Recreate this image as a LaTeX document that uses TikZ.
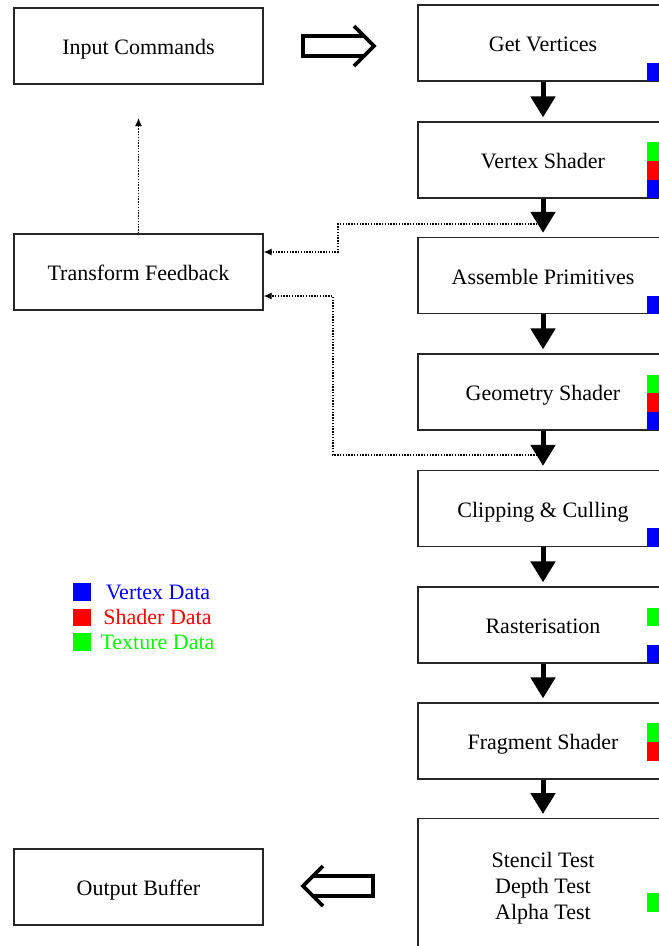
\documentclass[tikz,border=0pt]{standalone}
\usepackage{fontspec}
\setmainfont{Liberation Serif}
\usetikzlibrary{arrows.meta,calc}
\definecolor{vdata}{RGB}{0,0,255}
\definecolor{sdata}{RGB}{255,0,0}
\definecolor{tdata}{RGB}{0,255,0}
\begin{document}
\begin{tikzpicture}[x=1pt,y=-1pt,
  box/.style={draw=black!85,line width=1.3pt,minimum width=249pt,minimum height=76pt,
    inner sep=0pt,font=\fontsize{22}{26}\selectfont,align=center,
    text height=17pt,text depth=0pt},
  stage/.style={box,minimum width=250pt},
  flow/.style={line width=5pt,-{Triangle[length=21pt,width=24pt]},shorten >=4pt},
  feedback/.style={line width=1.2pt,dash pattern=on 1.4pt off 1.4pt,
    -{Latex[length=8pt,width=7pt]}},
  blockarrow/.style={line width=3.6pt,line join=miter},
  legendtext/.style={font=\fontsize{22}{26}\selectfont,inner sep=0pt,
    text height=14pt,text depth=0pt}
]
\useasboundingbox (0,0) rectangle (659,946);
\clip (0,0) rectangle (659,946);

% left column
\node[box] (ic) at (138.5,46)  {Input Commands};
\node[box] (tf) at (138.5,272) {Transform Feedback};
\node[box] (ob) at (138.5,887) {Output Buffer};

% pipeline stages
\node[stage] (gv) at (543,43)    {Get Vertices};
\node[stage] (vs) at (543,160)   {Vertex Shader};
\node[stage] (ap) at (543,275.5) {Assemble Primitives};
\node[stage] (gs) at (543,392)   {Geometry Shader};
\node[stage] (cc) at (543,508.5) {Clipping \& Culling};
\node[stage] (ra) at (543,625)   {Rasterisation};
\node[stage] (fs) at (543,741)   {Fragment Shader};
\node[stage,anchor=north,minimum height=140pt,text height=,text depth=] (st) at (543,818)
  {Stencil Test\\Depth Test\\Alpha Test};

% data markers on the right edge of each stage
\fill[vdata] (647,63) rectangle (668,81);
\fill[tdata] (647,142) rectangle (668,161);
\fill[sdata] (647,161) rectangle (668,179.5);
\fill[vdata] (647,179.5) rectangle (668,198);
\fill[vdata] (647,296) rectangle (668,314);
\fill[tdata] (647,375) rectangle (668,393);
\fill[sdata] (647,393) rectangle (668,412);
\fill[vdata] (647,412) rectangle (668,430);
\fill[vdata] (647,528) rectangle (668,547);
\fill[tdata] (647,608) rectangle (668,626);
\fill[vdata] (647,645) rectangle (668,663);
\fill[tdata] (647,723) rectangle (668,742);
\fill[sdata] (647,742) rectangle (668,761);
\fill[tdata] (647,893) rectangle (668,912);

% feedback paths
\coordinate (fb1) at (543,224);
\coordinate (fb2) at (543,455);
\coordinate (icgap) at (138.5,118);
\draw[feedback] (fb1) -- (338,224) |- ([yshift=20pt]tf.east);
\draw[feedback] (fb2) -- (333,455) |- ([yshift=-24pt]tf.east);
\draw[feedback] (tf.north) -- (icgap);

% pipeline flow
\draw[flow] (gv.south) -- (vs.north);
\draw[flow] (vs.south) -- (ap.north);
\draw[flow] (ap.south) -- (gs.north);
\draw[flow] (gs.south) -- (cc.north);
\draw[flow] (cc.south) -- (ra.north);
\draw[flow] (ra.south) -- (fs.north);
\draw[flow] (fs.south) -- (st.north);

% hollow block arrows: input into the pipeline, output out of it
\draw[blockarrow] (364,36) -- (303,36) -- (303,56) -- (364,56);
\draw[blockarrow] (354,26) -- (374,46) -- (354,66);
\draw[blockarrow] (313,876) -- (373,876) -- (373,896) -- (313,896);
\draw[blockarrow] (323,866) -- (303,886) -- (323,906);

% legend
\fill[vdata] (73,583) rectangle (91,601);
\fill[sdata] (73,609) rectangle (91,626);
\fill[tdata] (73,633) rectangle (91,651);
\node[legendtext,text=vdata] (lv) at (158,592) {Vertex Data};
\node[legendtext,text=sdata] (ls) at (157.5,617) {Shader Data};
\node[legendtext,text=tdata] (lt) at (157.5,642) {Texture Data};
\end{tikzpicture}
\end{document}
